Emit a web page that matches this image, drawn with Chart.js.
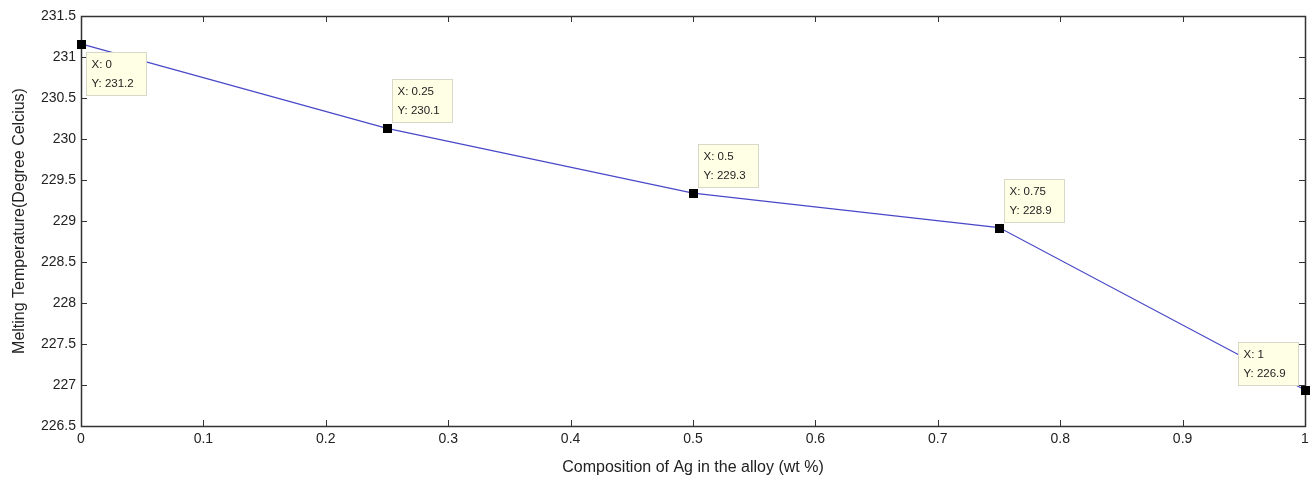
<!DOCTYPE html>
<html><head><meta charset="utf-8">
<script src="https://cdn.jsdelivr.net/npm/chart.js@4/dist/chart.umd.min.js"></script>
<style>html,body{margin:0;padding:0;background:#fff}#wrap{width:1314px;height:480px}</style>
</head><body><div id="wrap"><canvas id="c" width="1314" height="480"></canvas></div>
<script>
const compositions = [0, 0.25, 0.5, 0.75, 1];
const meltingTemps = [231.16, 230.13, 229.34, 228.92, 226.94];
const xTicks = [0, 0.1, 0.2, 0.3, 0.4, 0.5, 0.6, 0.7, 0.8, 0.9, 1];
const yTicks = [226.5, 227, 227.5, 228, 228.5, 229, 229.5, 230, 230.5, 231, 231.5];
const tipPlacement = ['se', 'ne', 'ne', 'ne', 'nw'];

const FONT = 'Arial, "Liberation Sans", sans-serif';

const frame = {
  id: 'frame',
  afterDatasetsDraw(chart) {
    const {ctx, chartArea: a, scales: {x, y}} = chart;
    ctx.save();
    ctx.strokeStyle = '#333';
    ctx.lineWidth = 1;
    ctx.beginPath();
    const L = 6;
    xTicks.forEach(v => {
      const px = Math.round(x.getPixelForValue(v)) + 0.5;
      ctx.moveTo(px, a.bottom); ctx.lineTo(px, a.bottom - L);
      ctx.moveTo(px, a.top); ctx.lineTo(px, a.top + L);
    });
    yTicks.forEach(v => {
      const py = Math.round(y.getPixelForValue(v)) + 0.5;
      ctx.moveTo(a.left, py); ctx.lineTo(a.left + L, py);
      ctx.moveTo(a.right, py); ctx.lineTo(a.right - L, py);
    });
    ctx.stroke();
    ctx.lineWidth = 1.5;
    ctx.strokeRect(Math.round(a.left) + 0.5, Math.round(a.top) + 0.5, Math.round(a.right - a.left), Math.round(a.bottom - a.top));
    // data tips
    ctx.font = '11.5px ' + FONT;
    compositions.forEach((cx, i) => {
      const px = x.getPixelForValue(cx), py = y.getPixelForValue(meltingTemps[i]);
      const w = 60, h = 43;
      let bx, by;
      const p = tipPlacement[i];
      if (p === 'se') { bx = px + 5; by = py + 8; }
      else if (p === 'ne') { bx = px + 5; by = py - 6 - h; }
      else { bx = px - 67; by = py - 5 - h; }
      bx = Math.round(bx) + 0.5; by = Math.round(by) + 0.5;
      ctx.fillStyle = '#ffffe6';
      ctx.fillRect(bx, by, w, h);
      ctx.strokeStyle = '#d8d8c8';
      ctx.lineWidth = 1;
      ctx.strokeRect(bx, by, w, h);
      ctx.fillStyle = '#222';
      ctx.textBaseline = 'middle';
      ctx.textAlign = 'left';
      ctx.fillText('X: ' + cx, bx + 5, by + 12);
      ctx.fillText('Y: ' + meltingTemps[i].toFixed(1), bx + 5, by + 31);
    });
    // markers on top
    ctx.fillStyle = '#000';
    compositions.forEach((cx, i) => {
      const px = x.getPixelForValue(cx), py = y.getPixelForValue(meltingTemps[i]);
      ctx.fillRect(Math.round(px) - 4, Math.round(py) - 4, 9, 9);
    });
    ctx.restore();
  }
};

new Chart(document.getElementById('c'), {
  type: 'scatter',
  data: {
    datasets: [{
      data: compositions.map((c, i) => ({x: c, y: meltingTemps[i]})),
      showLine: true,
      borderColor: '#4848c8',
      borderWidth: 1.2,
      pointRadius: 0,
      clip: false
    }]
  },
  options: {
    responsive: false,
    animation: false,
    devicePixelRatio: 1,
    layout: {padding: {left: 0, right: 9, top: 16, bottom: 0}},
    plugins: {legend: {display: false}, tooltip: {enabled: false}},
    scales: {
      x: {
        type: 'linear', min: 0, max: 1,
        afterBuildTicks(s) { s.ticks = xTicks.map(v => ({value: v})); },
        afterFit(s) { s.height = 54; },
        grid: {display: false, drawTicks: false},
        border: {display: false},
        ticks: {color: '#222', font: {family: FONT, size: 14}, padding: 5, maxRotation: 0, autoSkip: false,
          callback: v => String(v)},
        title: {display: true, text: 'Composition of Ag in the alloy (wt %)', color: '#222',
          font: {family: FONT, size: 16}, padding: {top: 2, bottom: 3}}
      },
      y: {
        type: 'linear', min: 226.5, max: 231.5,
        afterBuildTicks(s) { s.ticks = yTicks.map(v => ({value: v})); },
        afterFit(s) { s.width = 81; },
        grid: {display: false, drawTicks: false},
        border: {display: false},
        ticks: {color: '#222', font: {family: FONT, size: 14}, padding: 5, autoSkip: false,
          callback: v => String(v)},
        title: {display: true, text: 'Melting Temperature(Degree Celcius)', color: '#222',
          font: {family: FONT, size: 16}, padding: {top: 10, bottom: 2}}
      }
    }
  },
  plugins: [frame]
});
</script>
</body></html>
